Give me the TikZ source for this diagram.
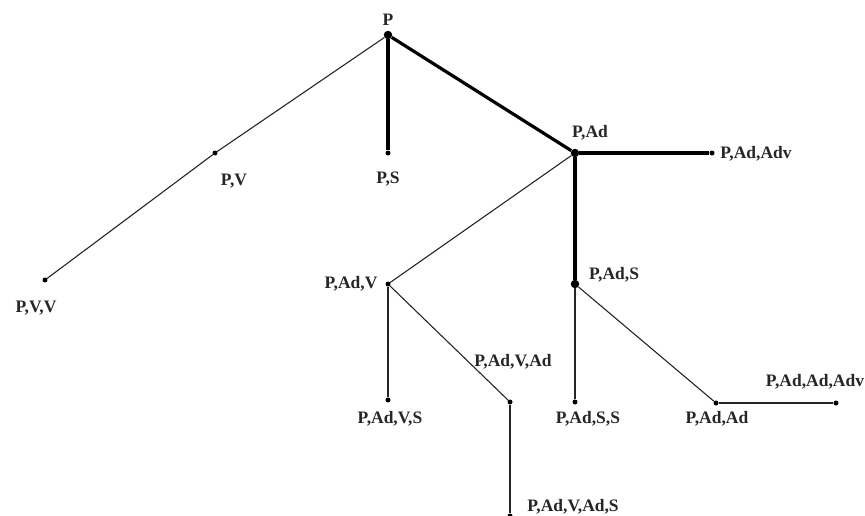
\documentclass[tikz,border=0pt]{standalone}
\usepackage{fontspec}
\setmainfont{Liberation Serif}
\usetikzlibrary{shapes}

\begin{document}
\begin{tikzpicture}[x=1pt, y=-1pt,
        every node/.style={font=\fontsize{17.5}{19}\selectfont\bfseries, text=black!85},
        bigdot/.style={circle, fill=black, inner sep=0pt, minimum size=8.5pt},
        smalldot/.style={circle, fill=black, inner sep=0pt, minimum size=5pt},
        thinedge/.style={line width=1.1pt, draw=black!85},
        thickedge/.style={line width=3.2pt, draw=black}]
        \useasboundingbox (0,0) rectangle (865,515);
        % Draw the big states
        \node[bigdot] (p) at (388,35) {};
        \node[bigdot] (pad) at (575,153) {};
        \node[bigdot] (pads) at (575,284) {};
        % Draw the small states
        \foreach \name/\x/\y in {pv/215/153, pvv/45/280, ps/388/153, padadv/712/153,
                padv/388/284, padvs/388/400, padvad/510/402, padvads/510/516,
                padss/575/402, padad/716/403, padadadv/836/403}
        \node[smalldot] (\name) at (\x,\y) {};
        % Draw the thick path
        \draw[thickedge] (p) -- (ps);
        \draw[thickedge] (p) -- (pad);
        \draw[thickedge] (pad) -- (padadv);
        \draw[thickedge] (pad) -- (pads);
        % Draw the thin edges
        \foreach \a/\b in {p/pv, pv/pvv, pad/padv, padv/padvs, padv/padvad,
                padvad/padvads, pads/padss, pads/padad, padad/padadadv}
        \draw[thinedge] (\a) -- (\b);
        % Labels
        \node (lp) at (388,20) {P};
        \node (lpv) at (234,181) {P,V};
        \node (lpvv) at (36,308) {P,V,V};
        \node (lps) at (388,179) {P,S};
        \node (lpad) at (590,133) {P,Ad};
        \node (lpadadv) at (756,154) {P,Ad,Adv};
        \node (lpadv) at (351,284) {P,Ad,V};
        \node (lpads) at (614,275) {P,Ad,S};
        \node (lpadvs) at (390,419) {P,Ad,V,S};
        \node (lpadvad) at (513,362) {P,Ad,V,Ad};
        \node (lpadvads) at (573,507) {P,Ad,V,Ad,S};
        \node (lpadss) at (588,419) {P,Ad,S,S};
        \node (lpadad) at (717,419) {P,Ad,Ad};
        \node (lpadadadv) at (815,382) {P,Ad,Ad,Adv};
    \end{tikzpicture}
\end{document}
